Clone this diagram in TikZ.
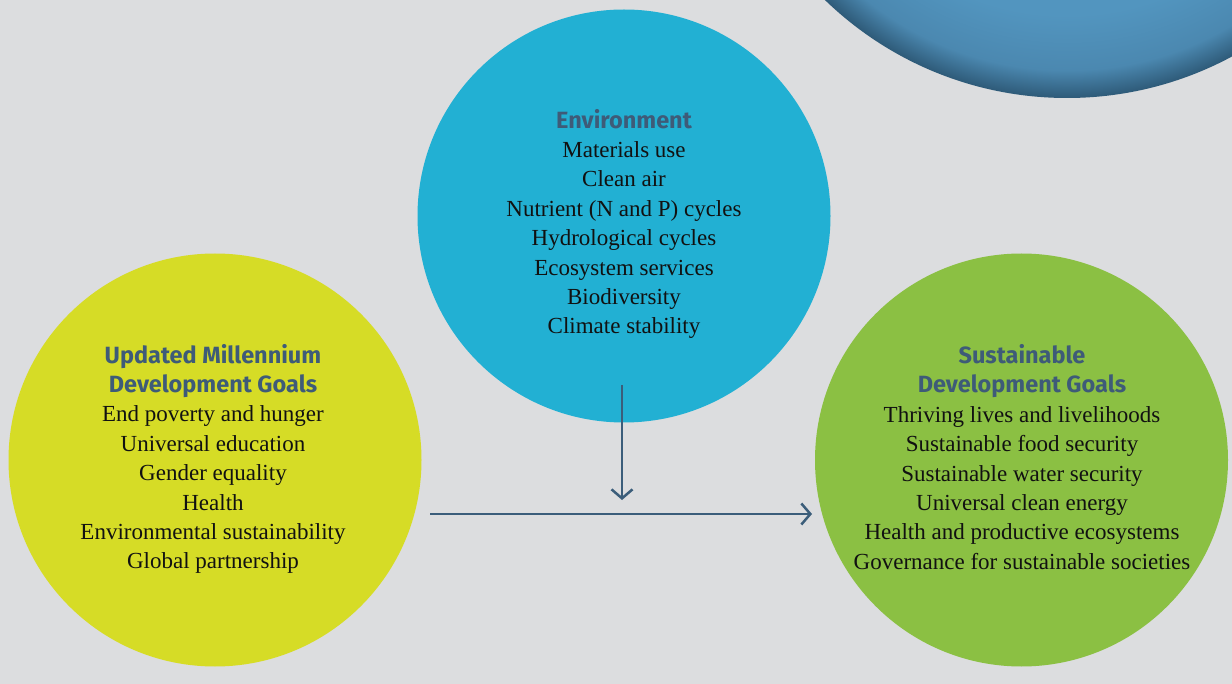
\documentclass[tikz,border=0pt]{standalone}
\usepackage{fontspec}
\setmainfont{Liberation Serif}
\newfontfamily\titlefont{Fira Sans}
\usetikzlibrary{arrows.meta}
\definecolor{bg}{HTML}{DCDDDF}
\definecolor{envc}{HTML}{22B0D3}
\definecolor{mdgc}{HTML}{D6DC26}
\definecolor{sdgc}{HTML}{8BC043}
\definecolor{titc}{HTML}{3E5B78}
\definecolor{arrc}{HTML}{3B5D7A}
\definecolor{bodyc}{HTML}{111111}
\definecolor{ballin}{HTML}{5295BF}
\definecolor{ballmid}{HTML}{4B88B0}
\definecolor{ballout}{HTML}{2E5A78}
\pgfdeclareradialshading{bigball}{\pgfpoint{0bp}{0bp}}{color(0bp)=(ballin); color(19bp)=(ballin); color(23bp)=(ballmid); color(25bp)=(ballout); color(50bp)=(ballout)}
\tikzset{
  goal/.style={circle, inner sep=0pt, minimum size=413pt},
  block/.style={align=center, text=bodyc, font=\fontsize{23}{29.4}\selectfont, inner sep=0pt},
  arr/.style={arrc, line width=2.5pt, -{Straight Barb[length=9pt,width=21pt,line width=2.5pt]}}
}
\newcommand{\ttlline}[1]{{\titlefont\bfseries\color{titc}\fontsize{23.5}{29.4}\selectfont#1}}
\begin{document}
\begin{tikzpicture}[x=1pt,y=-1pt]
\useasboundingbox[fill=bg] (0,0) rectangle (1232,684);
\clip (0,0) rectangle (1232,684);
\shade[shading=bigball] (1067,-250) circle (348pt);
\node[goal, fill=envc] (env) at (624,216) {};
\node[goal, fill=mdgc] (mdg) at (215,460) {};
\node[goal, fill=sdgc] (sdg) at (1021.5,460) {};
\node[block] (envtxt) at (624,224) {\ttlline{Environment}\\Materials use\\Clean air\\Nutrient (N and P) cycles\\Hydrological cycles\\Ecosystem services\\Biodiversity\\Climate stability};
\node[block] (mdgtxt) at (213,459) {\ttlline{Updated Millennium}\\\ttlline{Development Goals}\\End poverty and hunger\\Universal education\\Gender equality\\Health\\Environmental sustainability\\Global partnership};
\node[block] (sdgtxt) at (1022,457) {\ttlline{Sustainable}\\\ttlline{Development Goals}\\Thriving lives and livelihoods\\Sustainable food security\\Sustainable water security\\Universal clean energy\\Health and productive ecosystems\\Governance for sustainable societies};
\coordinate (vs) at (622,385);
\coordinate (ve) at (622,500);
\coordinate (hs) at (430,514);
\coordinate (he) at (812,514);
\draw[arr] (vs) -- (ve);
\draw[arr] (hs) -- (he);
\end{tikzpicture}
\end{document}
